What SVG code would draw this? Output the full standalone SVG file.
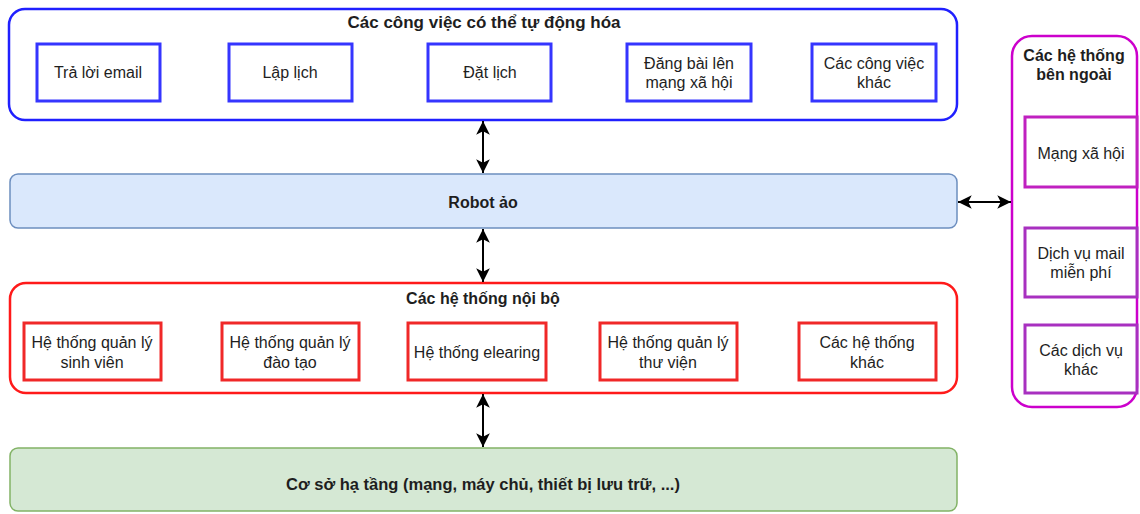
<svg xmlns="http://www.w3.org/2000/svg" width="1140" height="514" viewBox="0 0 1140 514">
<defs>
<marker id="ah" viewBox="0 0 14 14" refX="13" refY="7" markerWidth="16" markerHeight="16" markerUnits="userSpaceOnUse" orient="auto-start-reverse">
<path d="M1,1 L13,7 L1,13 L4,7 z" fill="#000"/>
</marker>
</defs>
<style>
text{font-family:"Liberation Sans",Arial,sans-serif;font-size:16px;fill:#1e1e1e;text-anchor:middle}
.b{font-weight:bold}
.cont{fill:#fff;stroke-width:2.5}
.blue{stroke:#2020ff}
.red{stroke:#ff1a1a}
.mag{stroke:#cc00cc}
.bbox{fill:#fff;stroke:#3535ff;stroke-width:3}
.rbox{fill:#fff;stroke:#f02828;stroke-width:3}
.mbox{fill:#fff;stroke:#a830c0;stroke-width:3}
.conn{stroke:#000;stroke-width:2;fill:none;marker-start:url(#ah);marker-end:url(#ah)}
</style>
<rect width="1140" height="514" fill="#fff"/>

<g id="automation">
<rect class="cont blue" x="9" y="9" width="948" height="111" rx="16"/>
<text class="b" x="484" y="28" style="font-size:17px">Các công việc có thể tự động hóa</text>
</g>
<g id="task-email"><rect class="bbox" x="37" y="44" width="123" height="57"/><text x="98" y="78">Trả lời email</text></g>
<g id="task-lap-lich"><rect class="bbox" x="229" y="44" width="123" height="57"/><text x="290" y="78">Lập lịch</text></g>
<g id="task-dat-lich"><rect class="bbox" x="428" y="44" width="123" height="57"/><text x="490" y="78">Đặt lịch</text></g>
<g id="task-social"><rect class="bbox" x="627" y="44" width="124" height="57"/><text x="689" y="69">Đăng bài lên</text><text x="689" y="88">mạng xã hội</text></g>
<g id="task-other"><rect class="bbox" x="812" y="44" width="124" height="57"/><text x="874" y="69">Các công việc</text><text x="874" y="88">khác</text></g>

<g id="robot">
<rect x="10" y="174" width="947" height="54" rx="8" fill="#dae8fc" stroke="#6c8ebf" stroke-width="1.5"/>
<text class="b" x="483" y="208">Robot ảo</text>
</g>

<g id="internal">
<rect class="cont red" x="10" y="283" width="947" height="110" rx="16"/>
<text class="b" x="483" y="304">Các hệ thống nội bộ</text>
</g>
<g id="sys-student"><rect class="rbox" x="24" y="323" width="137" height="57"/><text x="92" y="348">Hệ thống quản lý</text><text x="92" y="368">sinh viên</text></g>
<g id="sys-training"><rect class="rbox" x="222" y="323" width="137" height="57"/><text x="290" y="348">Hệ thống quản lý</text><text x="290" y="368">đào tạo</text></g>
<g id="sys-elearning"><rect class="rbox" x="408" y="323" width="138" height="57"/><text x="477" y="358">Hệ thống elearing</text></g>
<g id="sys-library"><rect class="rbox" x="600" y="323" width="137" height="57"/><text x="668" y="348">Hệ thống quản lý</text><text x="668" y="368">thư viện</text></g>
<g id="sys-other"><rect class="rbox" x="799" y="323" width="137" height="57"/><text x="867" y="348">Các hệ thống</text><text x="867" y="368">khác</text></g>

<g id="infra">
<rect x="10" y="448" width="947" height="63" rx="8" fill="#d5e8d4" stroke="#82b366" stroke-width="1.5"/>
<text class="b" x="483" y="490" style="font-size:16.5px">Cơ sở hạ tầng (mạng, máy chủ, thiết bị lưu trữ, ...)</text>
</g>

<g id="external">
<rect class="cont mag" x="1012" y="36" width="125" height="371" rx="20"/>
<text class="b" x="1074" y="61">Các hệ thống</text>
<text class="b" x="1074" y="80">bên ngoài</text>
</g>
<g id="ext-social"><rect class="mbox" x="1025" y="117" width="112" height="70" style="stroke:#c020c0"/><text x="1081" y="159">Mạng xã hội</text></g>
<g id="ext-mail"><rect class="mbox" x="1025" y="228" width="112" height="69"/><text x="1081" y="259">Dịch vụ mail</text><text x="1081" y="278">miễn phí</text></g>
<g id="ext-other"><rect class="mbox" x="1025" y="325" width="112" height="68"/><text x="1081" y="356">Các dịch vụ</text><text x="1081" y="375">khác</text></g>

<g id="connectors">
<line class="conn" x1="483" y1="121" x2="483" y2="173"/>
<line class="conn" x1="483" y1="229" x2="483" y2="282"/>
<line class="conn" x1="483" y1="394" x2="483" y2="447"/>
<line class="conn" x1="958" y1="202" x2="1011" y2="202"/>
</g>
</svg>
